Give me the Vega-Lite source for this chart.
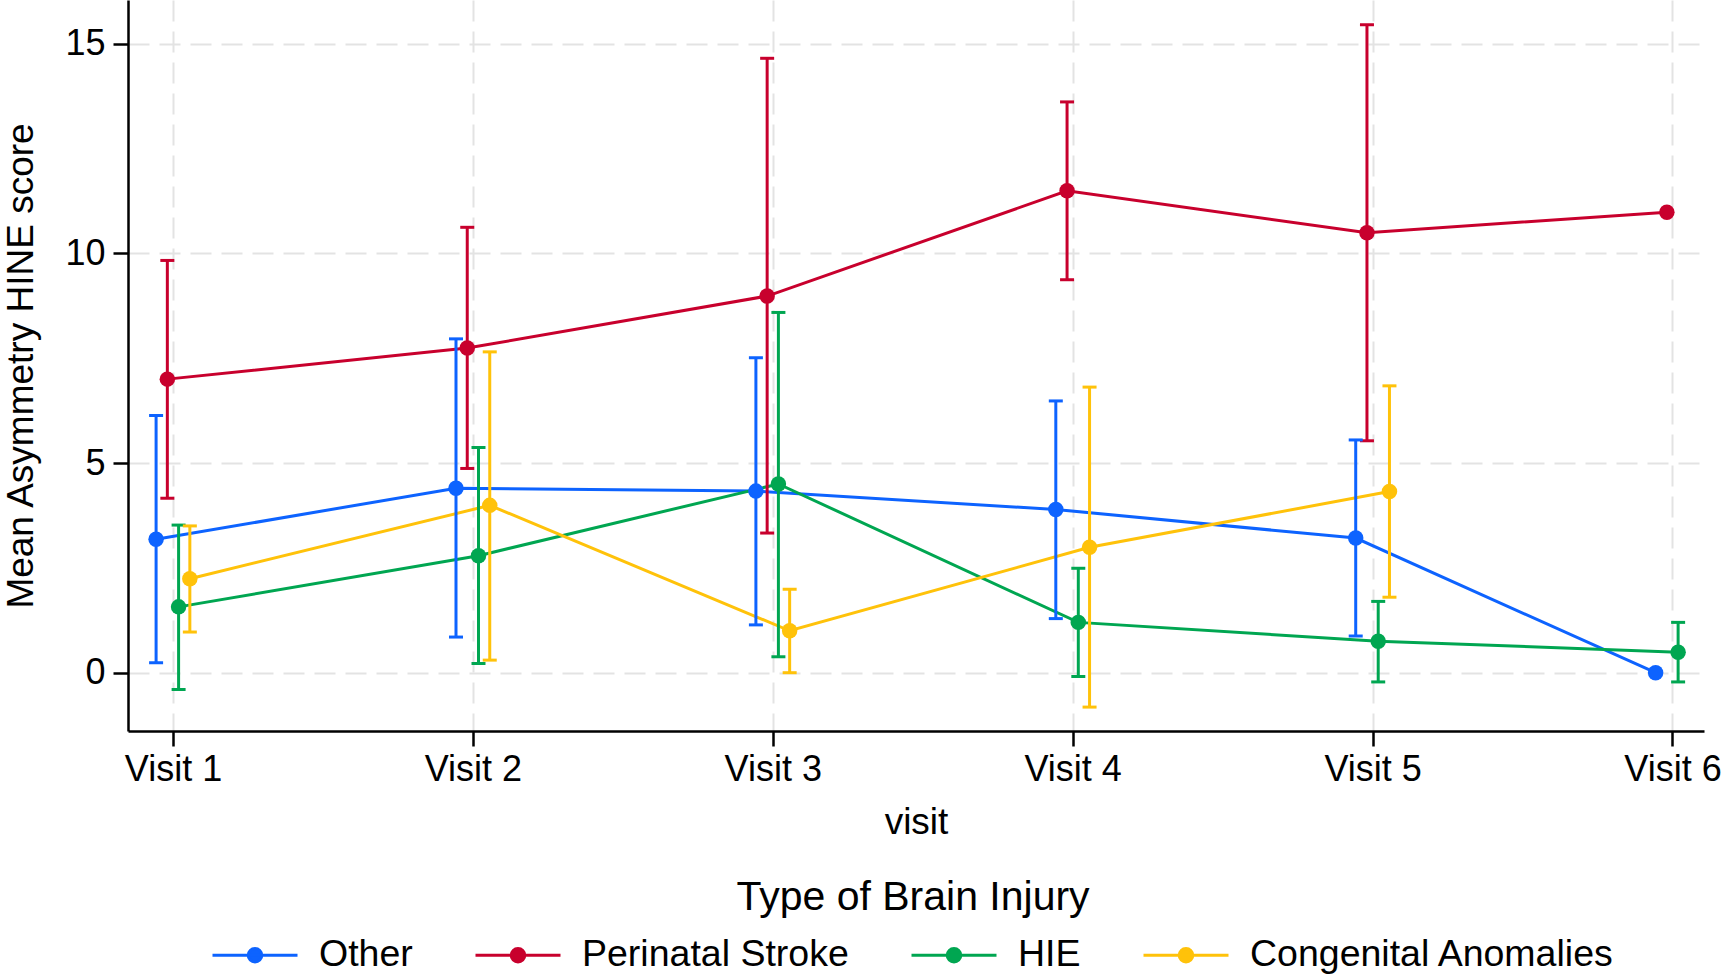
{
  "$schema": "https://vega.github.io/schema/vega-lite/v6.json",
  "autosize": {"type": "none"},
  "padding": {"left": 128, "top": 0, "right": 20, "bottom": 248},
  "width": 1576,
  "height": 731,
  "background": "white",
  "config": {
    "font": "Liberation Sans",
    "view": {"stroke": null},
    "axis": {
      "domainColor": "black",
      "domainWidth": 2.5,
      "tickColor": "black",
      "tickWidth": 2.5,
      "tickSize": 15,
      "labelColor": "black",
      "titleColor": "black",
      "labelFontSize": 36,
      "titleFontSize": 37,
      "titleFontWeight": "normal",
      "gridColor": "#e3e3e3",
      "gridWidth": 2,
      "gridDash": [21, 10]
    }
  },
  "data": {
    "values": [
      {"group": "Other", "visit": "Visit 1", "mean": 3.18, "lo": 0.24, "hi": 6.13},
      {"group": "Other", "visit": "Visit 2", "mean": 4.40, "lo": 0.85, "hi": 7.96},
      {"group": "Other", "visit": "Visit 3", "mean": 4.33, "lo": 1.14, "hi": 7.51},
      {"group": "Other", "visit": "Visit 4", "mean": 3.89, "lo": 1.29, "hi": 6.48},
      {"group": "Other", "visit": "Visit 5", "mean": 3.21, "lo": 0.875, "hi": 5.55},
      {"group": "Other", "visit": "Visit 6", "mean": 0.0, "lo": null, "hi": null},
      {"group": "Perinatal Stroke", "visit": "Visit 1", "mean": 7.0, "lo": 4.16, "hi": 9.83},
      {"group": "Perinatal Stroke", "visit": "Visit 2", "mean": 7.74, "lo": 4.87, "hi": 10.62},
      {"group": "Perinatal Stroke", "visit": "Visit 3", "mean": 8.98, "lo": 3.33, "hi": 14.65},
      {"group": "Perinatal Stroke", "visit": "Visit 4", "mean": 11.49, "lo": 9.37, "hi": 13.61},
      {"group": "Perinatal Stroke", "visit": "Visit 5", "mean": 10.49, "lo": 5.53, "hi": 15.45},
      {"group": "Perinatal Stroke", "visit": "Visit 6", "mean": 10.98, "lo": null, "hi": null},
      {"group": "HIE", "visit": "Visit 1", "mean": 1.57, "lo": -0.40, "hi": 3.52},
      {"group": "HIE", "visit": "Visit 2", "mean": 2.79, "lo": 0.22, "hi": 5.37},
      {"group": "HIE", "visit": "Visit 3", "mean": 4.50, "lo": 0.38, "hi": 8.59},
      {"group": "HIE", "visit": "Visit 4", "mean": 1.20, "lo": -0.09, "hi": 2.49},
      {"group": "HIE", "visit": "Visit 5", "mean": 0.75, "lo": -0.22, "hi": 1.70},
      {"group": "HIE", "visit": "Visit 6", "mean": 0.49, "lo": -0.22, "hi": 1.20},
      {"group": "Congenital Anomalies", "visit": "Visit 1", "mean": 2.24, "lo": 0.97, "hi": 3.50},
      {"group": "Congenital Anomalies", "visit": "Visit 2", "mean": 3.99, "lo": 0.30, "hi": 7.65},
      {"group": "Congenital Anomalies", "visit": "Visit 3", "mean": 1.0, "lo": 0.0, "hi": 1.99},
      {"group": "Congenital Anomalies", "visit": "Visit 4", "mean": 2.99, "lo": -0.82, "hi": 6.81},
      {"group": "Congenital Anomalies", "visit": "Visit 5", "mean": 4.32, "lo": 1.80, "hi": 6.84}
    ]
  },
  "encoding": {
    "x": {
      "field": "visit",
      "type": "ordinal",
      "title": "visit",
      "scale": {"type": "point", "padding": 0.1275, "align": 0.588},
      "axis": {"labelAngle": 0, "labelPadding": 6, "titlePadding": 17, "grid": true}
    },
    "xOffset": {
      "field": "group",
      "type": "nominal",
      "sort": ["Other", "Perinatal Stroke", "HIE", "Congenital Anomalies"],
      "scale": {"type": "point", "range": [-22.5, 22.5]}
    },
    "color": {
      "field": "group",
      "type": "nominal",
      "sort": ["Other", "Perinatal Stroke", "HIE", "Congenital Anomalies"],
      "scale": {
        "domain": ["Other", "Perinatal Stroke", "HIE", "Congenital Anomalies"],
        "range": ["#0d63ff", "#c8002d", "#00a651", "#ffc20a"]
      },
      "legend": {
        "title": "Type of Brain Injury",
        "orient": "none",
        "legendX": 83,
        "legendY": 878,
        "direction": "horizontal",
        "titleAnchor": "middle",
        "titleOrient": "top",
        "titleFontSize": 41,
        "titleFontWeight": "normal",
        "titleColor": "black",
        "titlePadding": -8,
        "titleLimit": 0,
        "labelLimit": 0,
        "labelFontSize": 37.5,
        "labelColor": "black",
        "labelOffset": 20,
        "columnPadding": 56,
        "padding": 0,
        "symbolType": "M-1,0H1M-0.16,0A0.16,0.16 0 1 1 0.16,0A0.16,0.16 0 1 1 -0.16,0Z",
        "symbolSize": 7225,
        "symbolStrokeWidth": 3,
        "encode": {
          "symbols": {
            "update": {
              "fill": {"scale": "color", "field": "value"},
              "stroke": {"scale": "color", "field": "value"},
              "fillOpacity": {"value": 1},
              "opacity": {"value": 1}
            }
          }
        }
      }
    }
  },
  "layer": [
    {
      "mark": {"type": "line", "strokeWidth": 3},
      "encoding": {
        "y": {
          "field": "mean",
          "type": "quantitative",
          "title": "Mean Asymmetry HINE score",
          "scale": {"domain": [-1.39, 16.04], "nice": false, "zero": false},
          "axis": {"values": [0, 5, 10, 15], "labelPadding": 8, "titlePadding": 24, "grid": true}
        }
      }
    },
    {
      "transform": [{"filter": "datum.lo != null"}],
      "mark": {"type": "rule", "strokeWidth": 3},
      "encoding": {
        "y": {"field": "lo", "type": "quantitative"},
        "y2": {"field": "hi"}
      }
    },
    {
      "transform": [{"filter": "datum.lo != null"}],
      "mark": {"type": "tick", "orient": "horizontal", "size": 14, "thickness": 3, "opacity": 1},
      "encoding": {"y": {"field": "lo", "type": "quantitative"}}
    },
    {
      "transform": [{"filter": "datum.hi != null"}],
      "mark": {"type": "tick", "orient": "horizontal", "size": 14, "thickness": 3, "opacity": 1},
      "encoding": {"y": {"field": "hi", "type": "quantitative"}}
    },
    {
      "mark": {"type": "point", "filled": true, "size": 240, "opacity": 1},
      "encoding": {"y": {"field": "mean", "type": "quantitative"}}
    }
  ]
}
